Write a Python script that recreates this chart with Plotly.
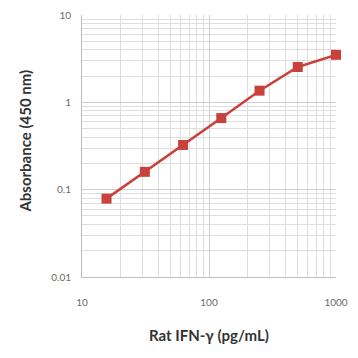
import plotly.graph_objects as go

conc = [15.6, 31.25, 62.5, 125, 250, 500, 1000]
absorbance = [0.079, 0.16, 0.325, 0.66, 1.36, 2.54, 3.5]

x_ticks = [10, 100, 1000]
y_ticks = [0.01, 0.1, 1, 10]
y_tick_labels = ["0.01", "0.1", "1", "10"]

red = "#c8413c"
grid = "#cfcfcf"
minor_grid = "#dedede"
tick_font = dict(family="Lato, Open Sans, sans-serif", color="#6a6a6a", size=10)
title_font = dict(family="Lato, Open Sans, sans-serif", color="#333333", size=15, weight="bold")

fig = go.Figure()
fig.add_trace(go.Scatter(
    x=conc, y=absorbance, mode="lines+markers",
    line=dict(color=red, width=2.5),
    marker=dict(symbol="square", size=10, color=red),
    showlegend=False, cliponaxis=False,
))

# page body adds an 8px offset; compensate so the plot sits where the reference has it
fig.update_layout(
    width=350, height=350,
    margin=dict(l=74, r=22, t=7, b=81),
    paper_bgcolor="white", plot_bgcolor="white",
    font=tick_font,
)
fig.update_xaxes(
    type="log", range=[1, 3], automargin=False,
    tickvals=x_ticks, ticktext=[str(v) for v in x_ticks], tickfont=tick_font,
    ticklabelstandoff=16,
    showgrid=True, gridcolor=grid, gridwidth=1,
    minor=dict(dtick="D1", showgrid=True, gridcolor=minor_grid, gridwidth=1),
    showline=True, linecolor="#bfbfbf", ticks="",
)
fig.update_yaxes(
    type="log", range=[-2, 1], automargin=False,
    tickvals=y_ticks, ticktext=y_tick_labels, tickfont=tick_font,
    ticklabelstandoff=8,
    showgrid=True, gridcolor=grid, gridwidth=1,
    minor=dict(dtick="D1", showgrid=True, gridcolor=minor_grid, gridwidth=1),
    showline=True, linecolor="#bfbfbf", ticks="",
)
fig.add_annotation(text="Rat IFN-γ (pg/mL)", xref="paper", yref="paper",
                   x=0.5, y=-0.22, xanchor="center", yanchor="middle",
                   showarrow=False, font=title_font)
fig.add_annotation(text="Absorbance (450 nm)", xref="paper", yref="paper",
                   x=-0.225, y=0.52, xanchor="center", yanchor="middle", textangle=-90,
                   showarrow=False, font=title_font)

fig.write_html("out.html")
